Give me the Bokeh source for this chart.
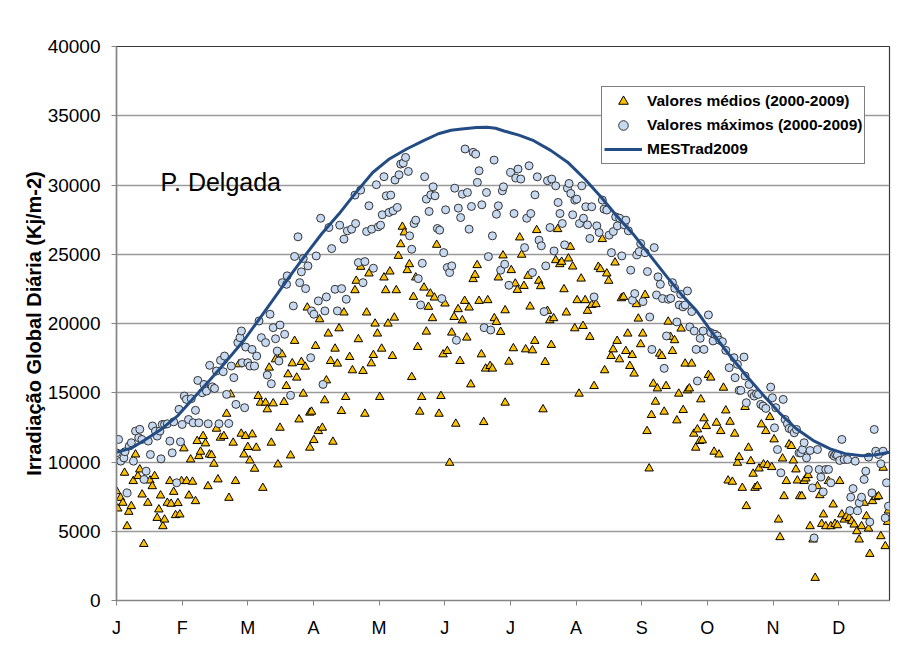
from bokeh.plotting import figure
from bokeh.models import (Legend, LegendItem, FixedTicker, Label, Range1d,
                          ColumnDataSource, NumeralTickFormatter)
from bokeh.embed import file_html
from bokeh.resources import INLINE

months = ["J", "F", "M", "A", "M", "J", "J", "A", "S", "O", "N", "D"]
month_ticks = [0, 31, 62, 93, 124, 155, 186, 217, 248, 279, 310, 341]
y_ticks = [0, 5000, 10000, 15000, 20000, 25000, 30000, 35000, 40000]

# Valores medios (2000-2009): (day of year, kJ/m2)
medios = [
    (0, 7890), (0.6, 6640), (1.9, 7410), (3, 7050), (3.8, 9220), (5, 5360), (5.8, 6400), (7, 6810),
    (7.9, 8620), (9, 10540), (10.1, 8980), (11, 9460), (12.1, 7650), (12.9, 4080), (14.8, 7050),
    (15.8, 8660), (16.9, 8250), (18, 8980), (19.2, 5960), (20, 6570), (20.8, 7580), (21.9, 5360),
    (22.7, 5840), (24, 7050), (25.2, 8620), (25.8, 6980), (27, 7840), (27.9, 6160), (29, 7030),
    (29.9, 6210), (30.7, 8620), (31.8, 10980), (33.1, 8620), (34.2, 7580), (35, 10180), (35.9, 8570),
    (37.3, 7170), (38.1, 11510), (38.9, 10420), (39.7, 10740), (40.9, 11870), (42, 11340), (43.2, 8250),
    (43.9, 10540), (44.9, 10490), (46, 9870), (47.2, 12400), (47.9, 8740), (49.1, 11750), (50.7, 11870),
    (52, 13480), (53.1, 7410), (53.9, 14880), (55.1, 11390), (56.2, 8620), (57.8, 17050), (58.9, 12040),
    (60.2, 10540), (60.9, 11870), (62, 11080), (63, 10110), (64.1, 11990), (65.2, 9510), (66, 11030),
    (66.9, 14760), (68, 14280), (69.1, 8130), (70.4, 14280), (71.2, 13800), (72.1, 16810), (73.1, 11390),
    (74, 14230), (75.1, 17410), (76.2, 9820), (77.2, 12470), (78.1, 17770), (79.1, 14330), (80.2, 15480),
    (81, 16330), (82.2, 10470), (83, 17120), (84.1, 18740), (85.1, 16090), (86.2, 13070), (87.3, 17220),
    (88.2, 14930), (89.1, 16880), (90.1, 21150), (91.3, 13560), (91.3, 11030),
    (92.1, 13630), (93.2, 11580), (94, 18380), (95.3, 12230), (95.9, 20300), (97.2, 12470), (98.3, 14450),
    (99.1, 15890), (100, 19270), (101.1, 17290), (102.2, 11460), (103.2, 18180), (104.3, 17100),
    (105.1, 19650), (106.2, 13680), (107.4, 20790), (108.2, 14690), (110.1, 17580), (111.4, 16620),
    (112.6, 22400), (113.2, 23080), (114.2, 18860), (115.3, 24090), (116.4, 16570), (117.3, 13480),
    (118.1, 20790), (119.2, 23610), (120.3, 17120), (121.3, 17720), (122.1, 19990), (123.2, 19270),
    (124.3, 14690), (125.2, 18180), (126.3, 23320), (127.1, 22400), (128.2, 19990), (129.1, 23750),
    (130.3, 17650), (131.2, 20420), (132.1, 22400), (133.1, 24880), (134.2, 25720), (135, 26980),
    (135.9, 26570), (137.3, 23850), (138.3, 24280), (139.4, 16130), (140.2, 21920), (141.3, 23320),
    (142.2, 18300), (143.2, 13630), (144.1, 14690), (145.2, 22590), (146.3, 19410), (147.3, 21200),
    (148.2, 22160), (149.2, 20380), (150.1, 21870), (151.2, 25680), (152.3, 13480), (153.2, 14760),
    (154.2, 17770), (155.1, 21440), (156.2, 18010), (157.3, 9940), (158.3, 19340), (159.4, 20470),
    (160.2, 12760), (161.3, 21030), (162.2, 17290), (163.3, 20230), (164.4, 21630), (165.4, 18980),
    (166.5, 21150), (167.3, 15600), (168.4, 23200), (169.3, 23510), (170.3, 24210), (171.2, 21630),
    (172.3, 17770), (173.4, 12880), (174.3, 16740), (175.3, 21680), (176.4, 16930), (177.5, 16740),
    (178.4, 20380), (179.4, 20110), (180.3, 23320), (181.4, 19390), (182.5, 24910), (183.5, 20950),
    (183.5, 14280),
    (185.3, 17240), (186.4, 23850), (187.4, 18210), (188.3, 22880), (189.3, 22420), (190.4, 26210),
    (191.3, 24960), (192.4, 22710), (193.2, 18130), (194.3, 23440), (195.3, 21220), (196.4, 18060),
    (197.5, 18740), (198.4, 26740), (199.4, 23080), (200.3, 22690), (201.4, 13800), (202.4, 17220),
    (203.5, 20910), (204.6, 20230), (205.3, 18450), (206.4, 20380), (207.4, 24570), (208.3, 26810),
    (209.3, 24280), (210.2, 24450), (211.3, 22470), (212.4, 20790), (213.4, 24690), (214.3, 25530),
    (215.4, 24110), (216.4, 19650), (217.5, 21680), (218.4, 14930), (219.4, 23240), (220.3, 19820),
    (221.3, 21680), (222.4, 20910), (223.5, 19030), (224.4, 21340), (225.5, 15480), (226.4, 21390),
    (227.5, 24090), (228.5, 23920), (229.4, 26090), (230.5, 16620), (231.5, 23610), (232.4, 23080),
    (233.5, 17650), (234.5, 18130), (235.4, 24400), (236.4, 18740), (237.5, 17410), (238.4, 21820),
    (239.4, 21920), (240.5, 18010), (241.4, 19270), (242.4, 16930), (243.5, 17720), (244.4, 16380),
    (245.5, 21390), (246.4, 20350), (247.5, 18500), (248.5, 19270), (249.6, 22060), (250.5, 12230),
    (251.5, 9530), (252.6, 13390), (253.5, 15650), (254.5, 14350), (255.4, 15310), (256.5, 17820),
    (257.5, 17650), (258.6, 13630), (259.5, 15480), (260.5, 20130), (261.6, 19030), (262.5, 18010),
    (263.5, 18790), (264.6, 13000), (265.5, 14930), (266.6, 19630), (267.6, 13750), (268.5, 17100),
    (269.6, 15170), (270.5, 15310), (271.6, 17100), (272.6, 12040), (273.5, 11030),
    (274.3, 12350), (275.4, 11510), (275.9, 14520), (276.6, 11560), (277.4, 13150), (278.5, 12590),
    (279.5, 16280), (280.6, 16090), (282.2, 10740), (283.3, 12830), (284.5, 10540), (285.3, 12230),
    (286.6, 15360), (287.7, 13720), (288.8, 8660), (289.7, 12900), (290.8, 8570), (291.9, 12040),
    (293.2, 9940), (294, 10350), (295.5, 8130), (296.8, 13970), (297.4, 6810), (298.4, 11030),
    (299.5, 10060), (300.6, 9150), (301.5, 8130), (302.6, 8250), (303.4, 9530), (304.5, 12710),
    (305.5, 9820), (306.6, 12230), (307.4, 9770), (308.5, 13240), (309.4, 9630), (310.5, 11630),
    (312.6, 5840), (313.3, 4570), (314.5, 10250), (315.2, 7530), (316.3, 8620), (317.6, 11270),
    (318.7, 11150), (319.6, 10110), (320.8, 9460), (321.5, 8660), (322.6, 7530), (323.6, 7530),
    (324.7, 8620), (325.5, 8810), (326.6, 9050), (327.5, 5360), (328.9, 4400), (329.9, 1630),
    (331, 8250), (332.1, 7600), (333, 5530), (333.8, 6210), (334.9, 5360), (336.2, 8620), (337.3, 5360),
    (338.4, 6930), (339.3, 5530), (340.4, 5430), (341.5, 8620), (342.5, 6210), (343.6, 5840),
    (344.7, 6080), (346, 5960), (347.2, 5720), (348.3, 5480), (349.6, 5000), (350.7, 4400), (351.8, 5360),
    (353, 7050), (354.1, 6080), (355.1, 5190), (355.7, 3360), (357, 7170), (358.5, 7460), (359.8, 7530),
    (360.9, 4640), (362, 9580), (363, 3920), (364.1, 5670), (364.5, 6490),
]

# Valores maximos (2000-2009): (day of year, kJ/m2)
maximos = [
    (0, 10660), (1, 11630), (2, 10060), (3.5, 10300), (4, 10740), (5, 7770), (6, 11150), (7, 11390),
    (8, 10060), (9, 12230), (10.5, 11750), (11, 12360), (12, 11630), (13, 8740), (14, 9340), (15, 11510),
    (16, 10540), (17, 12600), (18.4, 12230), (19.2, 11870), (20.5, 12230), (21, 10230), (21.6, 12710),
    (22.7, 12710), (24, 12760), (25.2, 11510), (26.3, 10660), (27, 12900), (28.4, 8500), (29.5, 13800),
    (30.2, 11460), (31, 12710), (32, 14760), (33, 14520), (34, 13070), (35.3, 14570), (36.2, 12830),
    (37.3, 13730), (38.4, 15890), (38.9, 12830), (40.5, 15000), (41.3, 15600), (42.5, 15120),
    (43.3, 12760), (44, 16980), (45.2, 15430), (46.3, 15310), (47.2, 16570), (48.4, 12760), (49.1, 17340),
    (50.4, 16520), (51, 17650), (52, 14880), (53, 12780), (54.2, 16930), (55.4, 16090), (56.4, 14160),
    (57.3, 18620), (58.3, 18980), (59, 19460), (59.4, 17170), (60.5, 13920), (61, 18300), (62, 17170),
    (63, 16930), (64, 18130), (65.2, 16930), (66.2, 17650), (67.3, 20180), (68.4, 18980), (70.4, 18620),
    (71.2, 16280), (72.5, 20670), (73.1, 15650), (74, 19700), (75.1, 18900), (75.9, 18010), (76.7, 17290),
    (77.2, 19890), (78.3, 22950), (79.4, 19220), (80.3, 22830), (80.6, 23440), (82.2, 14810),
    (83.5, 21270), (84.1, 24840), (85.7, 26260), (86.5, 22950), (87.3, 23730), (88.2, 24690),
    (89.3, 22520), (90.4, 24160), (91.7, 17530),
    (92.1, 20910), (93.2, 20670), (94.3, 24880), (95.3, 21630), (96.4, 27600), (97.5, 15600),
    (98.4, 20910), (99.1, 21920), (100.3, 26930), (101.6, 25410), (103.2, 22470), (104.3, 20910),
    (105.4, 27100), (106.3, 22520), (107.4, 26090), (108.5, 21750), (109, 26690), (111, 26810),
    (112.6, 29270), (112.9, 27220), (114.2, 24400), (115.3, 29630), (116.4, 22950), (117.3, 24470),
    (118.1, 26640), (119.2, 28500), (120.5, 26810), (121.3, 23990), (122.7, 30020), (123.6, 26980),
    (124.7, 27100), (125.5, 27850), (126.3, 30600), (127.4, 29220), (128.7, 28020), (129.5, 29270),
    (130.6, 28140), (131.5, 30360), (132.6, 28380), (133.4, 30740), (134.2, 31510), (135.4, 31580),
    (136.5, 31990), (137.8, 30980), (138.4, 26330), (139.4, 25360), (140.5, 27220), (141.3, 27460),
    (142.5, 23240), (143.6, 21340), (144.4, 24350), (145.5, 30600), (146.3, 28980), (147.6, 28090),
    (148.4, 29290), (149.5, 29870), (150.4, 29220), (151.5, 26860), (152.6, 26740), (153.6, 21800),
    (154.5, 25120), (155.4, 28210), (156.2, 24040), (157.3, 23680), (158.3, 24160), (159.7, 29770),
    (160.5, 18790), (161.4, 28330), (162.5, 27650), (163.3, 29340), (164.6, 32600), (165.7, 29460),
    (166.5, 26810), (167.6, 28450), (168.4, 32360), (169.6, 32230), (170.4, 30190), (171.2, 31030),
    (172.5, 28570), (173.6, 19700), (174.7, 29460), (175.6, 24830), (176.7, 19530), (177.5, 26330),
    (178.3, 31800), (179.4, 27890), (180.3, 28500), (181.4, 23850), (182.2, 29580), (182.7, 29870),
    (183.3, 24280),
    (185.3, 22760), (186.1, 30910), (187.7, 27940), (188.5, 30500), (189.6, 31150), (190.9, 30430),
    (192.7, 25480), (193.7, 27600), (194.8, 31390), (195.6, 27940), (196.4, 23680), (197.6, 29290),
    (198.7, 30590), (199.5, 26020), (200.6, 25610), (201.9, 20860), (202.7, 24160), (203.5, 30310),
    (204.7, 26930), (205.5, 30430), (206.6, 25240), (207.4, 29940), (208.5, 28740), (209.4, 27940),
    (210.5, 27220), (211.6, 25680), (212.9, 29770), (213.7, 30110), (214.5, 29390), (215.4, 27850),
    (216.4, 28910), (217.3, 28980), (218.6, 27220), (219.7, 29940), (220.5, 27600), (221.6, 28430),
    (222.4, 27120), (223.5, 26140), (224.4, 28430), (225.5, 21920), (226.8, 27050), (227.9, 26570),
    (229.4, 28910), (230.2, 28260), (231.5, 28190), (232.6, 26380), (233.7, 25120), (234.6, 26640),
    (235.7, 27700), (236.5, 27050), (237.6, 27600), (238.6, 24880), (239.7, 27120), (240.5, 27460),
    (241.7, 26690), (242.8, 23850), (243.6, 21680), (244.7, 22160), (245.7, 24960), (246.8, 25190),
    (247.5, 25770), (248.6, 21580), (249.6, 25120), (250.7, 23750), (251.8, 20470), (252.8, 18130),
    (253.9, 25480), (255, 22060), (255.7, 23370), (256.8, 22830), (257.8, 21800), (258.6, 16760),
    (259.7, 19100), (260.6, 21750), (261.7, 21820), (262.5, 22950), (263.6, 22540), (264.6, 20110),
    (265.7, 21340), (266.4, 22110), (267.5, 21200), (268.5, 21340), (269.6, 22350), (270.7, 19750),
    (271.6, 20860), (272.8, 19460), (273.7, 18130), (274.3, 15850), (275.6, 18930),
    (277, 19460), (277.4, 18130), (279.5, 20620), (280.6, 19340), (281.7, 18740), (282.6, 19220),
    (283.7, 19100), (284.8, 18790), (286.1, 18690), (287.7, 18060), (289.3, 16810), (291.6, 17530),
    (292.1, 16090), (293.2, 17050), (294, 15170), (294.8, 15170), (296.3, 17580), (296.8, 16210),
    (297.4, 14280), (298.7, 15600), (300, 14930), (301.1, 14760), (302.2, 14930), (303.1, 14880),
    (304.2, 14160), (305.3, 14040), (306.6, 13870), (308.9, 15410), (309.7, 14640), (310.7, 12470),
    (311.3, 13920), (312.1, 10900), (313.7, 9220), (314.8, 14520), (315.7, 13070), (316.8, 12760),
    (317.6, 12420), (318.9, 12350), (320, 12110), (321.1, 12350), (322.3, 10660), (323.1, 10660),
    (323.9, 10900), (324.7, 11390), (325.8, 10300), (326.7, 9460), (327.5, 10830), (328.6, 8130),
    (329.4, 4520), (331, 10900), (331.8, 9460), (332.6, 8910), (333.7, 7840), (334.9, 9460),
    (336.2, 9460), (337.3, 8500), (338.1, 10540), (338.9, 10420), (339.6, 10540), (340.4, 10490),
    (341.5, 10110), (342.5, 11630), (343.6, 10180), (345.2, 10180), (346.3, 6490), (346.7, 7460),
    (347.8, 8080), (348.8, 10060), (349.9, 6490), (350.7, 7050), (351.8, 7460), (353, 8740),
    (353.8, 9340), (355.1, 10350), (355.7, 5670), (356.7, 7770), (357.8, 12350), (358.5, 10780),
    (359.8, 10540), (360.9, 9870), (362, 10780), (363, 5960), (363.6, 8500), (364.5, 6810),
]

# MESTrad2009 curve: (day of year, kJ/m2)
mestrad = [
    (0, 10700), (7, 11000), (13, 11550), (21, 12350), (29, 13350), (36, 14550), (44, 15900),
    (52, 17300), (60, 18750), (68, 20450), (76, 22150), (83, 23650), (90, 25100), (97, 26500),
    (105, 27900), (113, 29450), (121, 30900), (129, 31900), (137, 32600), (145, 33200), (152, 33700),
    (158, 33950), (163, 34050), (170, 34150), (175, 34170), (179, 34100), (183, 33900), (190, 33600),
    (197, 33200), (205, 32500), (213, 31650), (221, 30450), (229, 29100), (236, 27800), (244, 26450),
    (252, 24900), (260, 23350), (267, 22050), (274, 20900), (281, 19400), (289, 17800), (297, 16300),
    (305, 14900), (313, 13550), (321, 12400), (329, 11550), (337, 10950), (344, 10600), (352, 10450),
    (358, 10500), (365, 10700),
]

FONT = "Liberation Sans"

p = figure(width=897, height=656, output_backend="svg", toolbar_location=None,
           x_range=Range1d(0, 365), y_range=Range1d(0, 40000),
           min_border_left=116, min_border_right=8, min_border_top=46, min_border_bottom=56)
p.background_fill_color = "white"
p.border_fill_color = "white"
p.outline_line_color = "#3a3a3a"
p.outline_line_width = 1.2

p.xgrid.visible = False
p.ygrid.grid_line_color = "#9a9a9a"
p.ygrid.grid_line_width = 1.3

p.xaxis.ticker = FixedTicker(ticks=month_ticks)
p.xaxis.major_label_overrides = {t: m for t, m in zip(month_ticks, months)}
p.yaxis.ticker = FixedTicker(ticks=y_ticks)
p.yaxis.formatter = NumeralTickFormatter(format="0")

for ax in (p.xaxis, p.yaxis):
    ax.axis_line_color = "#868686"
    ax.axis_line_width = 1.5
    ax.major_tick_line_color = "#868686"
    ax.major_tick_line_width = 1
    ax.major_tick_out = 5
    ax.major_tick_in = 0
    ax.minor_tick_line_color = None
    ax.major_label_text_font = FONT
    ax.major_label_text_color = "black"

p.yaxis.major_label_text_font_size = "19px"
p.xaxis.major_label_text_font_size = "18px"
p.xaxis.major_label_standoff = 12
p.yaxis.major_label_standoff = 11
p.yaxis.axis_label = "Irradiação Global Diária (Kj/m-2)"
p.yaxis.axis_label_text_font = FONT
p.yaxis.axis_label_text_font_style = "bold"
p.yaxis.axis_label_text_font_size = "20px"
p.yaxis.axis_label_text_color = "black"
p.yaxis.axis_label_standoff = 0

src_m = ColumnDataSource(data=dict(x=[d for d, v in medios], y=[v for d, v in medios]))
src_x = ColumnDataSource(data=dict(x=[d for d, v in maximos], y=[v for d, v in maximos]))
src_l = ColumnDataSource(data=dict(x=[d for d, v in mestrad], y=[v for d, v in mestrad]))

r_med = p.scatter("x", "y", source=src_m, marker="triangle", size=8.5,
                  fill_color="#FFC000", line_color="black", line_width=1)
r_max = p.scatter("x", "y", source=src_x, marker="circle", size=8,
                  fill_color="#C6D9F1", line_color="#333333", line_width=1)
r_line = p.line("x", "y", source=src_l, line_color="#244C84", line_width=3)

p.add_layout(Label(x=20.8, y=29200, text="P. Delgada", text_font=FONT,
                   text_font_size="25px", text_color="black"))

legend = Legend(items=[
    LegendItem(label="Valores médios (2000-2009)", renderers=[r_med]),
    LegendItem(label="Valores máximos (2000-2009)", renderers=[r_max]),
    LegendItem(label="MESTrad2009", renderers=[r_line]),
], location=(485, 436))
legend.label_text_font = FONT
legend.label_text_font_style = "bold"
legend.label_text_font_size = "15.5px"
legend.label_text_color = "black"
legend.glyph_width = 38
legend.glyph_height = 24
legend.label_height = 24
legend.label_standoff = 5
legend.spacing = 0
legend.padding = 2
legend.margin = 0
legend.border_line_color = "black"
legend.border_line_width = 1
legend.background_fill_color = "white"
legend.background_fill_alpha = 1
p.add_layout(legend)

open("out.html", "w").write(file_html(p, INLINE))
